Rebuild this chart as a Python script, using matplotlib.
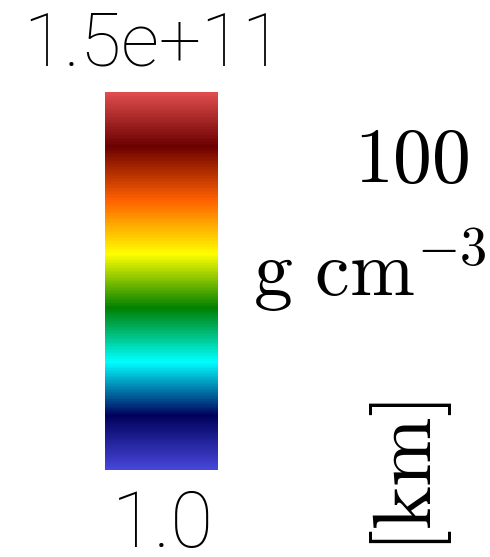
import numpy as np
import matplotlib
matplotlib.use("Agg")
import matplotlib.pyplot as plt
from matplotlib.colors import LinearSegmentedColormap, LogNorm
from matplotlib.cm import ScalarMappable

plt.rcParams['mathtext.fontset'] = 'cm'

# colour bar range (density)
vmin = 1.0
vmax = 1.5e11
tick_labels = ['1.0', '1.5e+11']
# rainbow-desaturated control colours, low -> high
cmap_colors = [(0.278, 0.278, 0.858), (0.0, 0.0, 0.360), (0.0, 1.0, 1.0),
               (0.0, 0.5, 0.0), (1.0, 1.0, 0.0), (1.0, 0.380, 0.0),
               (0.420, 0.0, 0.0), (0.878, 0.301, 0.301)]
side_texts = [r'$100$', r'$\mathrm{g\ cm^{-3}}$', r'$[\mathrm{km}]$']

W, H = 490, 557


def px(x, y):
    """pixel position -> figure fraction"""
    return x / W, 1 - y / H


fig = plt.figure(figsize=(W / 100, H / 100), dpi=100)

cmap = LinearSegmentedColormap.from_list('rainbow_desat', cmap_colors, N=256)
cax = fig.add_axes([105 / W, 1 - 470 / H, 113 / W, 378 / H])
sm = ScalarMappable(norm=LogNorm(vmin, vmax), cmap=cmap)
cb = fig.colorbar(sm, cax=cax)
cb.set_ticks([])
cb.ax.minorticks_off()
cb.outline.set_visible(False)

# min / max labels
fig.text(*px(153, 65), tick_labels[1], fontsize=54, family='Roboto',
         fontweight='light', ha='center', va='baseline')
fig.text(*px(163, 547), tick_labels[0], fontsize=56, family='Roboto',
         fontweight='light', ha='center', va='baseline')

# bits of the axis labels that stick into the frame
fig.text(*px(470, 182), side_texts[0], fontsize=56, ha='right', va='baseline')
fig.text(*px(253, 297), side_texts[1], fontsize=56, ha='left', va='baseline')
fig.text(*px(411, 553), side_texts[2], fontsize=60, rotation=90,
         ha='center', va='bottom')

fig.savefig('out.png', dpi=100)
